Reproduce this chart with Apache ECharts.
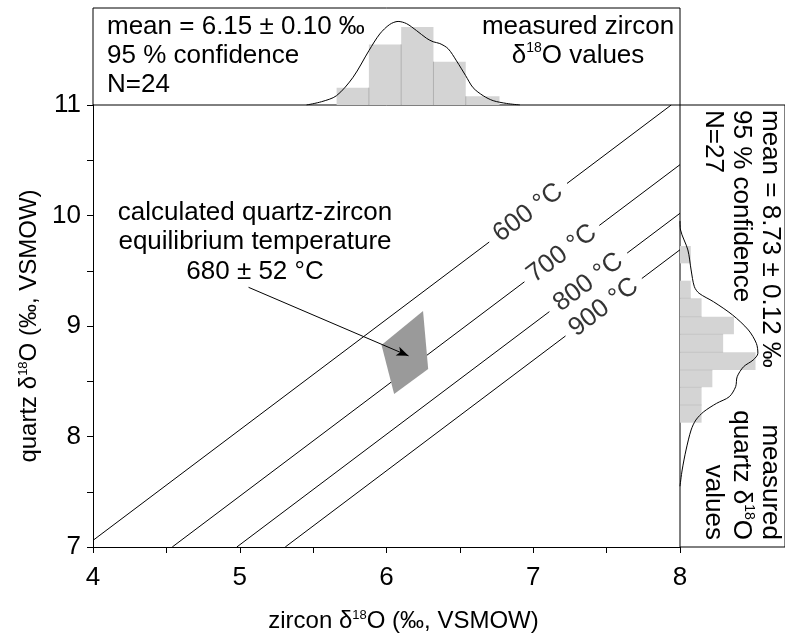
<!DOCTYPE html>
<html><head><meta charset="utf-8">
<script src="https://cdn.jsdelivr.net/npm/echarts@6/dist/echarts.min.js"></script>
<style>html,body{margin:0;padding:0;background:#fff}#c{width:785px;height:641px}</style>
</head><body><div id="c"></div>
<script>
const FONT = '"Liberation Sans", Arial, sans-serif';

// main axes
const xRange = [4, 8];
const yRange = [7, 11];

// isotherms (segment endpoints, gap left for the label)
const isoLabels = ['600 °C', '700 °C', '800 °C', '900 °C'];
const iso600 = [[4.00, 7.06], [6.70, 9.76], [7.23, 10.29], [7.94, 11.00]];
const iso700 = [[4.54, 7.00], [6.94, 9.40], [7.45, 9.91], [8.00, 10.46]];
const iso800 = [[4.98, 7.00], [7.11, 9.13], [7.64, 9.66], [8.00, 10.02]];
const iso900 = [[5.31, 7.00], [7.22, 8.91], [7.74, 9.43], [8.00, 9.69]];
const isoLabelX = [6.965, 7.195, 7.375, 7.48];
const isoLabelY = [10.025, 9.655, 9.395, 9.17];

// zircon histogram (top)
const zrcBinEdges = [5.66, 5.88, 6.10, 6.32, 6.54, 6.77];
const zrcCounts = [2, 7, 9, 5, 1];
const zrcKdeX = [5.455, 5.557, 5.659, 5.772, 5.881, 5.954, 6.022, 6.079, 6.136, 6.204, 6.273, 6.318, 6.363, 6.420, 6.477, 6.539, 6.590, 6.659, 6.727, 6.818, 6.909];
const zrcKdeY = [0, 0.38, 1.07, 3.2, 6.3, 8.2, 9.3, 9.65, 9.4, 8.6, 7.7, 7.3, 7.1, 6.5, 5.1, 3.4, 2.0, 1.07, 0.5, 0.18, 0];

// quartz histogram (right)
const qtzBinEdges = [8.125, 8.285, 8.445, 8.602, 8.762, 8.925, 9.084, 9.251, 9.410, 9.567, 9.724];
const qtzCounts = [2, 2, 3, 7, 4, 5, 2, 1, 0, 1];
const qtzKdeY = [9.95, 9.869, 9.688, 9.507, 9.356, 9.296, 9.220, 9.100, 8.964, 8.843, 8.753, 8.692, 8.632, 8.541, 8.451, 8.360, 8.300, 8.224, 8.149, 8.059, 7.878, 7.697, 7.55];
const qtzKdeC = [0, 0.05, 0.73, 1.03, 1.33, 1.77, 3.1, 4.87, 6.34, 7.08, 7.22, 6.78, 5.9, 5.3, 5.16, 4.57, 3.39, 2.2, 1.47, 1.03, 0.56, 0.2, 0];

// equilibrium field
const eqX = [5.966, 6.249, 6.284, 6.052];
const eqY = [8.828, 9.136, 8.611, 8.385];
const arrowFrom = [5.06, 9.35];
const arrowTo = [6.15, 8.73];

const isoAll = [iso600, iso700, iso800, iso900];
const isoSegments = [];
isoAll.forEach(p => { isoSegments.push({coords: [p[0], p[1]]}); isoSegments.push({coords: [p[2], p[3]]}); });

const zrcData = zrcCounts.map((c, i) => [zrcBinEdges[i], zrcBinEdges[i + 1], c, i > 0 ? Math.min(c, zrcCounts[i - 1]) : 0]);
const qtzData = qtzCounts.map((c, i) => [qtzBinEdges[i], qtzBinEdges[i + 1], c, i > 0 ? Math.min(c, qtzCounts[i - 1]) : 0]);

const richBase = (fs) => ({
  t: {fontSize: fs, fontFamily: FONT, color: '#000'},
  s: {fontSize: Math.round(fs * 0.55), fontFamily: FONT, color: '#000', verticalAlign: 'top'}
});

const chart = echarts.init(document.getElementById('c'), null, {renderer: 'canvas', width: 785, height: 641});

const option = {
  animation: false,
  backgroundColor: '#fff',
  grid: [
    {left: 93, top: 105, width: 587, height: 442, show: false},
    {left: 93, top: 8, width: 587, height: 97, show: true, borderColor: '#000', borderWidth: 1, backgroundColor: 'transparent'},
    {left: 680, top: 105, width: 110, height: 442, show: true, borderColor: '#000', borderWidth: 1, backgroundColor: 'transparent'}
  ],
  xAxis: [
    {gridIndex: 0, type: 'value', min: xRange[0], max: xRange[1], interval: 1,
      axisLine: {lineStyle: {color: '#000', width: 1}},
      axisTick: {show: true, length: 6, lineStyle: {color: '#000'}},
      minorTick: {show: true, splitNumber: 2, length: 6, lineStyle: {color: '#000'}},
      splitLine: {show: false},
      axisLabel: {color: '#000', fontSize: 26, fontFamily: FONT, margin: 18},
      name: '{t|zircon δ}{s|18}{t|O (‰, VSMOW)}', nameLocation: 'middle', nameGap: 62,
      nameTextStyle: {rich: richBase(24), padding: [0, 0, 0, 34]}},
    {gridIndex: 1, type: 'value', min: xRange[0], max: xRange[1], show: false},
    {gridIndex: 2, type: 'value', min: 0, max: 110 / 11.3, show: false}
  ],
  yAxis: [
    {gridIndex: 0, type: 'value', min: yRange[0], max: yRange[1], interval: 1,
      axisLine: {lineStyle: {color: '#000', width: 1}},
      axisTick: {show: true, length: 6, lineStyle: {color: '#000'}},
      minorTick: {show: true, splitNumber: 2, length: 6, lineStyle: {color: '#000'}},
      splitLine: {show: false},
      axisLabel: {color: '#000', fontSize: 26, fontFamily: FONT, margin: 12},
      name: '{t|quartz δ}{s|18}{t|O (‰, VSMOW)}', nameLocation: 'middle', nameGap: 52,
      nameTextStyle: {rich: richBase(24)}},
    {gridIndex: 1, type: 'value', min: 0, max: 11.2, show: false},
    {gridIndex: 2, type: 'value', min: yRange[0], max: yRange[1], show: false}
  ],
  series: [
    {type: 'lines', coordinateSystem: 'cartesian2d', xAxisIndex: 0, yAxisIndex: 0, polyline: false,
      data: isoSegments, lineStyle: {color: '#000', width: 1, opacity: 1}, z: 2, silent: true},
    {type: 'scatter', xAxisIndex: 0, yAxisIndex: 0, symbolSize: 1,
      itemStyle: {color: 'rgba(0,0,0,0)'},
      data: isoLabels.map((n, i) => ({name: n, value: [isoLabelX[i], isoLabelY[i]]})),
      label: {show: true, position: 'inside', formatter: '{b}', rotate: 37, color: '#000', fontSize: 26, fontFamily: FONT},
      z: 3, silent: true},
    {type: 'custom', xAxisIndex: 0, yAxisIndex: 0, z: 4, silent: true, data: [[0]],
      renderItem: function (params, api) {
        const pts = eqX.map((x, i) => api.coord([x, eqY[i]]));
        return {type: 'polygon', shape: {points: pts}, style: {fill: '#9a9a9a', stroke: 'none'}};
      },
      markLine: {silent: true, symbol: ['none', 'arrow'], symbolSize: [7, 12],
        lineStyle: {color: '#000', width: 1, type: 'solid'}, label: {show: false},
        data: [[{coord: arrowFrom}, {coord: arrowTo}]]}},
    {type: 'custom', xAxisIndex: 1, yAxisIndex: 1, z: 2, silent: true, data: zrcData,
      renderItem: function (params, api) {
        const p0 = api.coord([api.value(0), 0]);
        const p1 = api.coord([api.value(1), api.value(2)]);
        const ps = api.coord([api.value(0), api.value(3)]);
        const children = [{type: 'rect', shape: {x: p0[0], y: p1[1], width: p1[0] - p0[0], height: p0[1] - p1[1]}, style: {fill: '#d4d4d4'}}];
        if (api.value(3) > 0) children.push({type: 'line', shape: {x1: p0[0], y1: p0[1], x2: p0[0], y2: ps[1]}, style: {stroke: '#b0b0b0', lineWidth: 1}});
        return {type: 'group', children: children};
      }},
    {type: 'line', xAxisIndex: 1, yAxisIndex: 1, z: 3, silent: true, symbol: 'none', smooth: 0.3,
      data: zrcKdeX.map((x, i) => [x, zrcKdeY[i]]), lineStyle: {color: '#000', width: 1}},
    {type: 'custom', xAxisIndex: 2, yAxisIndex: 2, z: 2, silent: true, data: qtzData,
      renderItem: function (params, api) {
        const p0 = api.coord([0, api.value(0)]);
        const p1 = api.coord([api.value(2), api.value(1)]);
        const ps = api.coord([api.value(3), api.value(0)]);
        const children = [{type: 'rect', shape: {x: p0[0], y: p1[1], width: p1[0] - p0[0], height: p0[1] - p1[1]}, style: {fill: '#d4d4d4'}}];
        if (api.value(3) > 0) children.push({type: 'line', shape: {x1: p0[0], y1: p0[1], x2: ps[0], y2: p0[1]}, style: {stroke: '#c4c4c4', lineWidth: 1}});
        return {type: 'group', children: children};
      }},
    {type: 'line', xAxisIndex: 2, yAxisIndex: 2, z: 3, silent: true, symbol: 'none', smooth: 0.3,
      data: qtzKdeC.map((c, i) => [c, qtzKdeY[i]]), lineStyle: {color: '#000', width: 1}}
  ],
  graphic: [
    {type: 'text', x: 107, y: 12, silent: true,
      style: {text: 'mean = 6.15 ± 0.10 ‰\n95 % confidence\nN=24', font: '26px ' + FONT, fill: '#000', textAlign: 'left', textVerticalAlign: 'top', lineHeight: 29}},
    {type: 'text', x: 578, y: 12, silent: true,
      style: {text: '{t|measured zircon}\n{t|δ}{s|18}{t|O values}', rich: richBase(26), fill: '#000', textAlign: 'center', textVerticalAlign: 'top', lineHeight: 29}},
    {type: 'text', x: 255, y: 198, silent: true,
      style: {text: 'calculated quartz-zircon\nequilibrium temperature\n680 ± 52 °C', font: '26px ' + FONT, fill: '#000', textAlign: 'center', textVerticalAlign: 'top', lineHeight: 29.5}},
    {type: 'text', x: 784, y: 110, rotation: -Math.PI / 2, silent: true,
      style: {text: 'mean = 8.73 ± 0.12 ‰\n95 % confidence\nN=27', font: '26px ' + FONT, fill: '#000', textAlign: 'left', textVerticalAlign: 'top', lineHeight: 28.5}},
    {type: 'text', x: 784, y: 540, rotation: -Math.PI / 2, silent: true,
      style: {text: '{t|measured}\n{t|quartz δ}{s|18}{t|O}\n{t|values}', rich: richBase(26), fill: '#000', textAlign: 'right', textVerticalAlign: 'top', lineHeight: 28.5}}
  ]
};
chart.setOption(option);
</script>
</body></html>
